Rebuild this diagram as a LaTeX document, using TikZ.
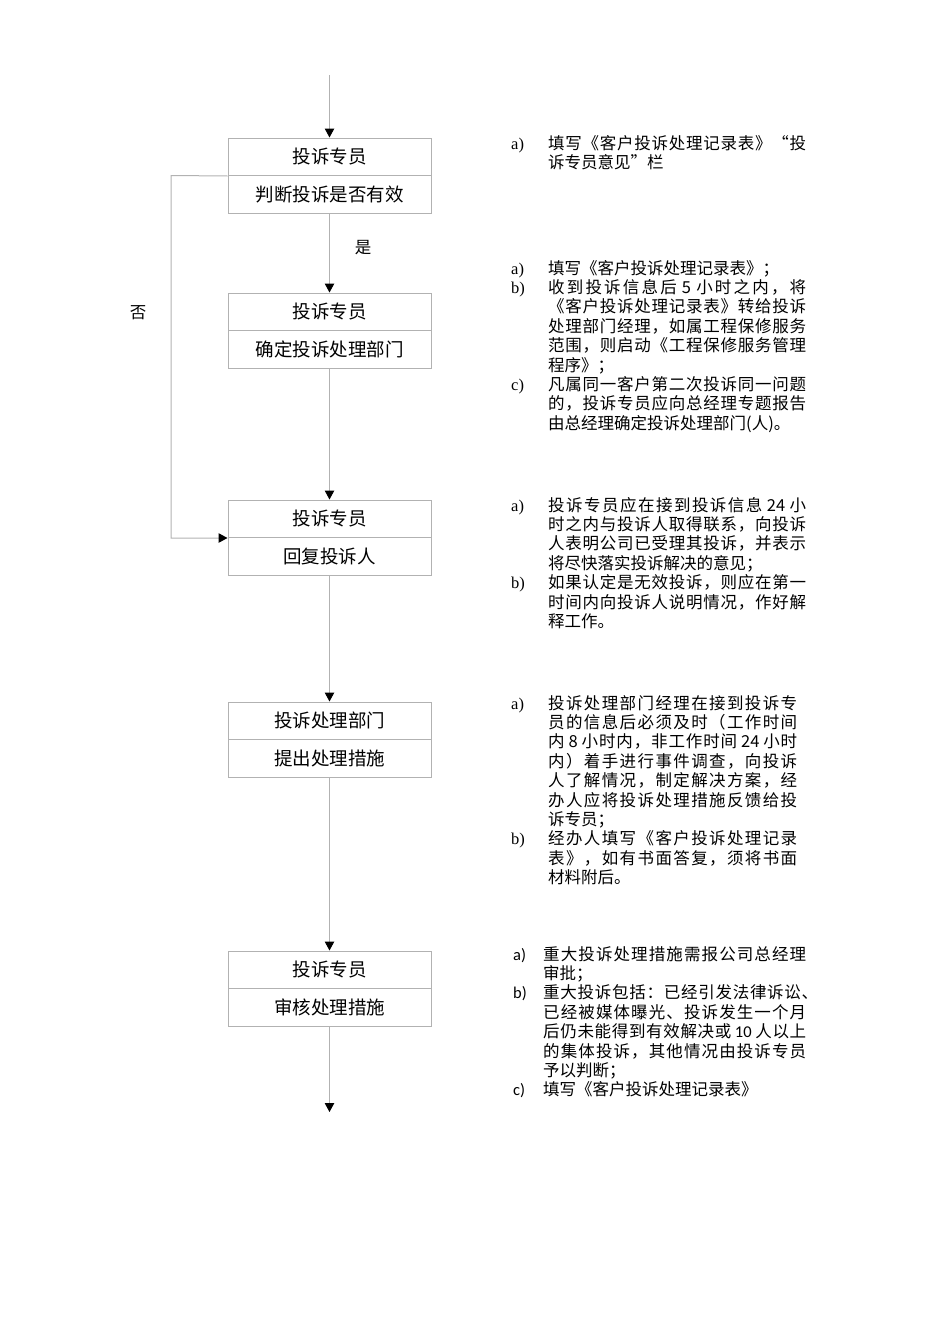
\documentclass[tikz,border=0pt]{standalone}
\usepackage{fontspec}
\setmainfont{Noto Sans CJK SC}
\newfontfamily\lserif{Liberation Serif}
\newfontfamily\lcarl{Carlito}
\usetikzlibrary{arrows.meta}
\definecolor{ln}{RGB}{178,178,178}
\makeatletter
\def\jl@end{jl@end}
\newcommand\jl[2]{\makebox[#1][s]{\jl@a#2\jl@end}}
\def\jl@a#1{#1\jl@b}
\def\jl@b#1{\ifx\jl@end#1\else\hfil#1\expandafter\jl@b\fi}
\makeatother
\newcommand\ten{{\lcarl 10}}
\newcommand\gsp{\hspace{3pt}}
\newcommand\boxfont{\fontsize{18.5}{22}\selectfont}
\newcommand\txtfont{\fontsize{16.5}{19.4}\selectfont}
\newcommand\La[1]{\makebox[37pt][l]{\lserif #1}}
\newcommand\Lc[1]{\makebox[30pt][l]{\lcarl #1}}
\newcommand\In{\hspace*{37pt}}
\newcommand\Ic{\hspace*{30pt}}
\tikzset{
  half/.style={draw=ln, line width=1pt, minimum width=203pt, minimum height=37.5pt, inner sep=0pt, font=\boxfont},
  arr/.style={draw=ln, line width=1pt, -{Triangle[width=9.5pt,length=9pt,color=black]}},
  note/.style={anchor=base west, inner sep=0pt},
  lab/.style={inner sep=0pt, font=\txtfont}
}
\begin{document}
\begin{tikzpicture}[x=1pt,y=-1pt]
\useasboundingbox (0,0) rectangle (950,1344);
% boxes
\node[half] (b1t) at (329.5,156.75) {投诉专员};
\node[half] (b1b) at (329.5,194.25) {判断投诉是否有效};
\node[half] (b2t) at (329.5,311.75) {投诉专员};
\node[half] (b2b) at (329.5,349.25) {确定投诉处理部门};
\node[half] (b3t) at (329.5,518.75) {投诉专员};
\node[half] (b3b) at (329.5,556.25) {回复投诉人};
\node[half] (b4t) at (329.5,720.75) {投诉处理部门};
\node[half] (b4b) at (329.5,758.25) {提出处理措施};
\node[half] (b5t) at (329.5,969.75) {投诉专员};
\node[half] (b5b) at (329.5,1007.25) {审核处理措施};
\coordinate (start) at (329.5,75);
\coordinate (end) at (329.5,1112);
\coordinate (nocorner) at (171,175.5);
% connectors
\draw[arr] (start) -- (b1t.north);
\draw[arr] (b1b.south) -- (b2t.north);
\draw[arr] (b2b.south) -- (b3t.north);
\draw[arr] (b3b.south) -- (b4t.north);
\draw[arr] (b4b.south) -- (b5t.north);
\draw[arr] (b5b.south) -- (end);
\draw[arr] (b1t.south west) -- (nocorner) |- (b3t.south west);
\node[lab] (yes) at (363,248) {是};
\node[lab] (no) at (138,313) {否};
% notes
\node[note] (n1) at (511,149) {\parbox[t]{320pt}{\txtfont
\mbox{\La{a)}\jl{258pt}{填写《客户投诉处理记录表》“投}}\par
\mbox{\In 诉专员意见”栏}\par}};
\node[note] (n2) at (511,274) {\parbox[t]{320pt}{\txtfont
\mbox{\La{a)}填写《客户投诉处理记录表》；}\par
\mbox{\La{b)}\jl{258pt}{收到投诉信息后{\gsp5\gsp}小时之内，将}}\par
\mbox{\In\jl{258pt}{《客户投诉处理记录表》转给投诉}}\par
\mbox{\In\jl{258pt}{处理部门经理，如属工程保修服务}}\par
\mbox{\In\jl{258pt}{范围，则启动《工程保修服务管理}}\par
\mbox{\In 程序》；}\par
\mbox{\La{c)}\jl{258pt}{凡属同一客户第二次投诉同一问题}}\par
\mbox{\In\jl{258pt}{的，投诉专员应向总经理专题报告}}\par
\mbox{\In 由总经理确定投诉处理部门(人)。}\par}};
\node[note] (n3) at (511,511) {\parbox[t]{320pt}{\txtfont
\mbox{\La{a)}\jl{258pt}{投诉专员应在接到投诉信息{\gsp24\gsp}小}}\par
\mbox{\In\jl{258pt}{时之内与投诉人取得联系，向投诉}}\par
\mbox{\In\jl{258pt}{人表明公司已受理其投诉，并表示}}\par
\mbox{\In 将尽快落实投诉解决的意见；}\par
\mbox{\La{b)}\jl{258pt}{如果认定是无效投诉，则应在第一}}\par
\mbox{\In\jl{258pt}{时间内向投诉人说明情况，作好解}}\par
\mbox{\In 释工作。}\par}};
\node[note] (n4) at (511,709) {\parbox[t]{320pt}{\txtfont
\mbox{\La{a)}\jl{249pt}{投诉处理部门经理在接到投诉专}}\par
\mbox{\In\jl{249pt}{员的信息后必须及时（工作时间}}\par
\mbox{\In\jl{249pt}{内{\gsp8\gsp}小时内，非工作时间{\gsp24\gsp}小时}}\par
\mbox{\In\jl{249pt}{内）着手进行事件调查，向投诉}}\par
\mbox{\In\jl{249pt}{人了解情况，制定解决方案，经}}\par
\mbox{\In\jl{249pt}{办人应将投诉处理措施反馈给投}}\par
\mbox{\In 诉专员；}\par
\mbox{\La{b)}\jl{249pt}{经办人填写《客户投诉处理记录}}\par
\mbox{\In\jl{249pt}{表》，如有书面答复，须将书面}}\par
\mbox{\In 材料附后。}\par}};
\node[note] (n5) at (513,960) {\parbox[t]{320pt}{\txtfont
\mbox{\Lc{a)}\jl{263pt}{重大投诉处理措施需报公司总经理}}\par
\mbox{\Ic 审批；}\par
\mbox{\Lc{b)}\jl{275pt}{重大投诉包括：已经引发法律诉讼、}}\par
\mbox{\Ic\jl{263pt}{已经被媒体曝光、投诉发生一个月}}\par
\mbox{\Ic\jl{263pt}{后仍未能得到有效解决或{\gsp\ten\gsp}人以上}}\par
\mbox{\Ic\jl{263pt}{的集体投诉，其他情况由投诉专员}}\par
\mbox{\Ic 予以判断；}\par
\mbox{\Lc{c)}填写《客户投诉处理记录表》}\par}};
\end{tikzpicture}
\end{document}
